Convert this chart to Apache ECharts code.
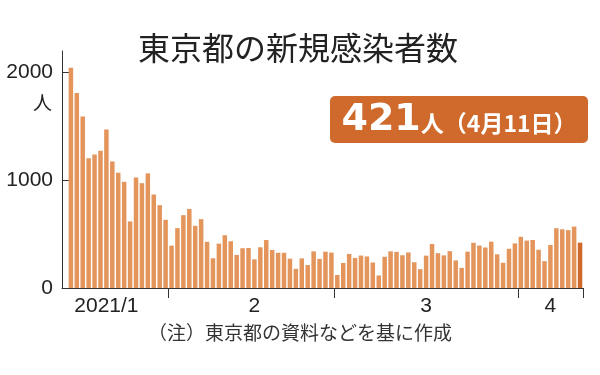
<!DOCTYPE html>
<html>
<head>
<meta charset="utf-8">
<script src="https://cdn.jsdelivr.net/npm/echarts@6/dist/echarts.min.js"></script>
<style>html,body{margin:0;padding:0;background:#fff}#c{width:600px;height:375px}</style>
</head>
<body>
<div id="c"></div>
<script>
// Dates (2021); first slot is an empty day before the data starts
var dates = ['1/14',
'1/15','1/16','1/17','1/18','1/19','1/20','1/21','1/22','1/23','1/24','1/25','1/26','1/27','1/28','1/29','1/30','1/31',
'2/1','2/2','2/3','2/4','2/5','2/6','2/7','2/8','2/9','2/10','2/11','2/12','2/13','2/14','2/15','2/16','2/17','2/18','2/19','2/20','2/21','2/22','2/23','2/24','2/25','2/26','2/27','2/28',
'3/1','3/2','3/3','3/4','3/5','3/6','3/7','3/8','3/9','3/10','3/11','3/12','3/13','3/14','3/15','3/16','3/17','3/18','3/19','3/20','3/21','3/22','3/23','3/24','3/25','3/26','3/27','3/28','3/29','3/30','3/31',
'4/1','4/2','4/3','4/4','4/5','4/6','4/7','4/8','4/9','4/10','4/11'];
var cases = [null,
2044,1809,1592,1204,1240,1274,1471,1175,1070,986,618,1026,973,1064,868,769,633,
393,556,676,734,577,639,429,276,412,490,434,307,369,371,266,378,445,353,327,327,272,178,275,213,340,270,337,329,
121,232,316,279,301,293,237,116,290,340,335,304,330,239,175,300,409,323,303,342,256,187,337,420,394,376,430,313,234,364,414,
475,440,446,355,249,399,555,545,537,570,421];
var monthStarts = ['2/1','3/1','4/1'];
var monthLabelDays = ['1/21','2/15','3/16','4/6'];
var monthLabels = ['2021/1','2','3','4'];
var yTicks = [0,1000,2000];
var latestValue = '421';
var latestText = '人（4月11日）';

var barColor = '#e3955c', lastColor = '#d0692a';
var chart = echarts.init(document.getElementById('c'), null, {renderer:'canvas'});
var data = cases.map(function(v,i){
  return i === cases.length-1 ? {value:v, itemStyle:{color:lastColor}} : v;
});
chart.setOption({
  animation:false,
  grid:{left:62, right:17, top:51, bottom:87},
  xAxis:{
    type:'category', data:dates, boundaryGap:true,
    axisLine:{lineStyle:{color:'#333', width:1}},
    axisTick:{show:true, length:10, lineStyle:{color:'#333'},
      interval:function(i, v){ return monthStarts.indexOf(v) >= 0; }},
    axisLabel:{interval:function(i, v){ return monthLabelDays.indexOf(v) >= 0; },
      formatter:function(v){ var k = monthLabelDays.indexOf(v); return k>=0 ? monthLabels[k] : ''; },
      color:'#222', fontSize:21, fontFamily:'Liberation Sans', margin:8}
  },
  yAxis:{
    type:'value', min:0, max:2200, interval:1000,
    splitLine:{show:false},
    axisLine:{show:true, lineStyle:{color:'#333', width:1}},
    axisTick:{show:true, inside:true, length:8, lineStyle:{color:'#333'}, customValues:yTicks},
    axisLabel:{color:'#222', fontSize:21, fontFamily:'Liberation Sans', margin:9, customValues:yTicks,
      formatter:function(v){ return String(v); }}
  },
  series:[{type:'bar', data:data, barCategoryGap:'24%', itemStyle:{color:barColor}}],
  graphic:[
    {type:'text', x:298, y:48, style:{text:'東京都の新規感染者数', font:'normal 32px "Noto Sans CJK JP"', fill:'#222', align:'center', verticalAlign:'middle'}},
    {type:'text', left:33, top:93, style:{text:'人', font:'19px "Noto Sans CJK JP"', fill:'#222'}},
    {type:'rect', shape:{x:330, y:96, width:258, height:47, r:5}, style:{fill:'#cf6a2c'}},
    {type:'text', x:459, y:120, style:{
      text:'{a|'+latestValue+'}{b|'+latestText+'}', align:'center', verticalAlign:'middle',
      rich:{a:{font:'bold 38px "DejaVu Sans"', fill:'#fff'}, b:{font:'bold 23px "Noto Sans CJK JP"', fill:'#fff', padding:[6,0,0,0]}}
    }},
    {type:'text', x:300, y:333, style:{text:'（注）東京都の資料などを基に作成', font:'19px "Noto Sans CJK JP"', fill:'#333', align:'center', verticalAlign:'middle'}}
  ]
});
</script>
</body>
</html>
